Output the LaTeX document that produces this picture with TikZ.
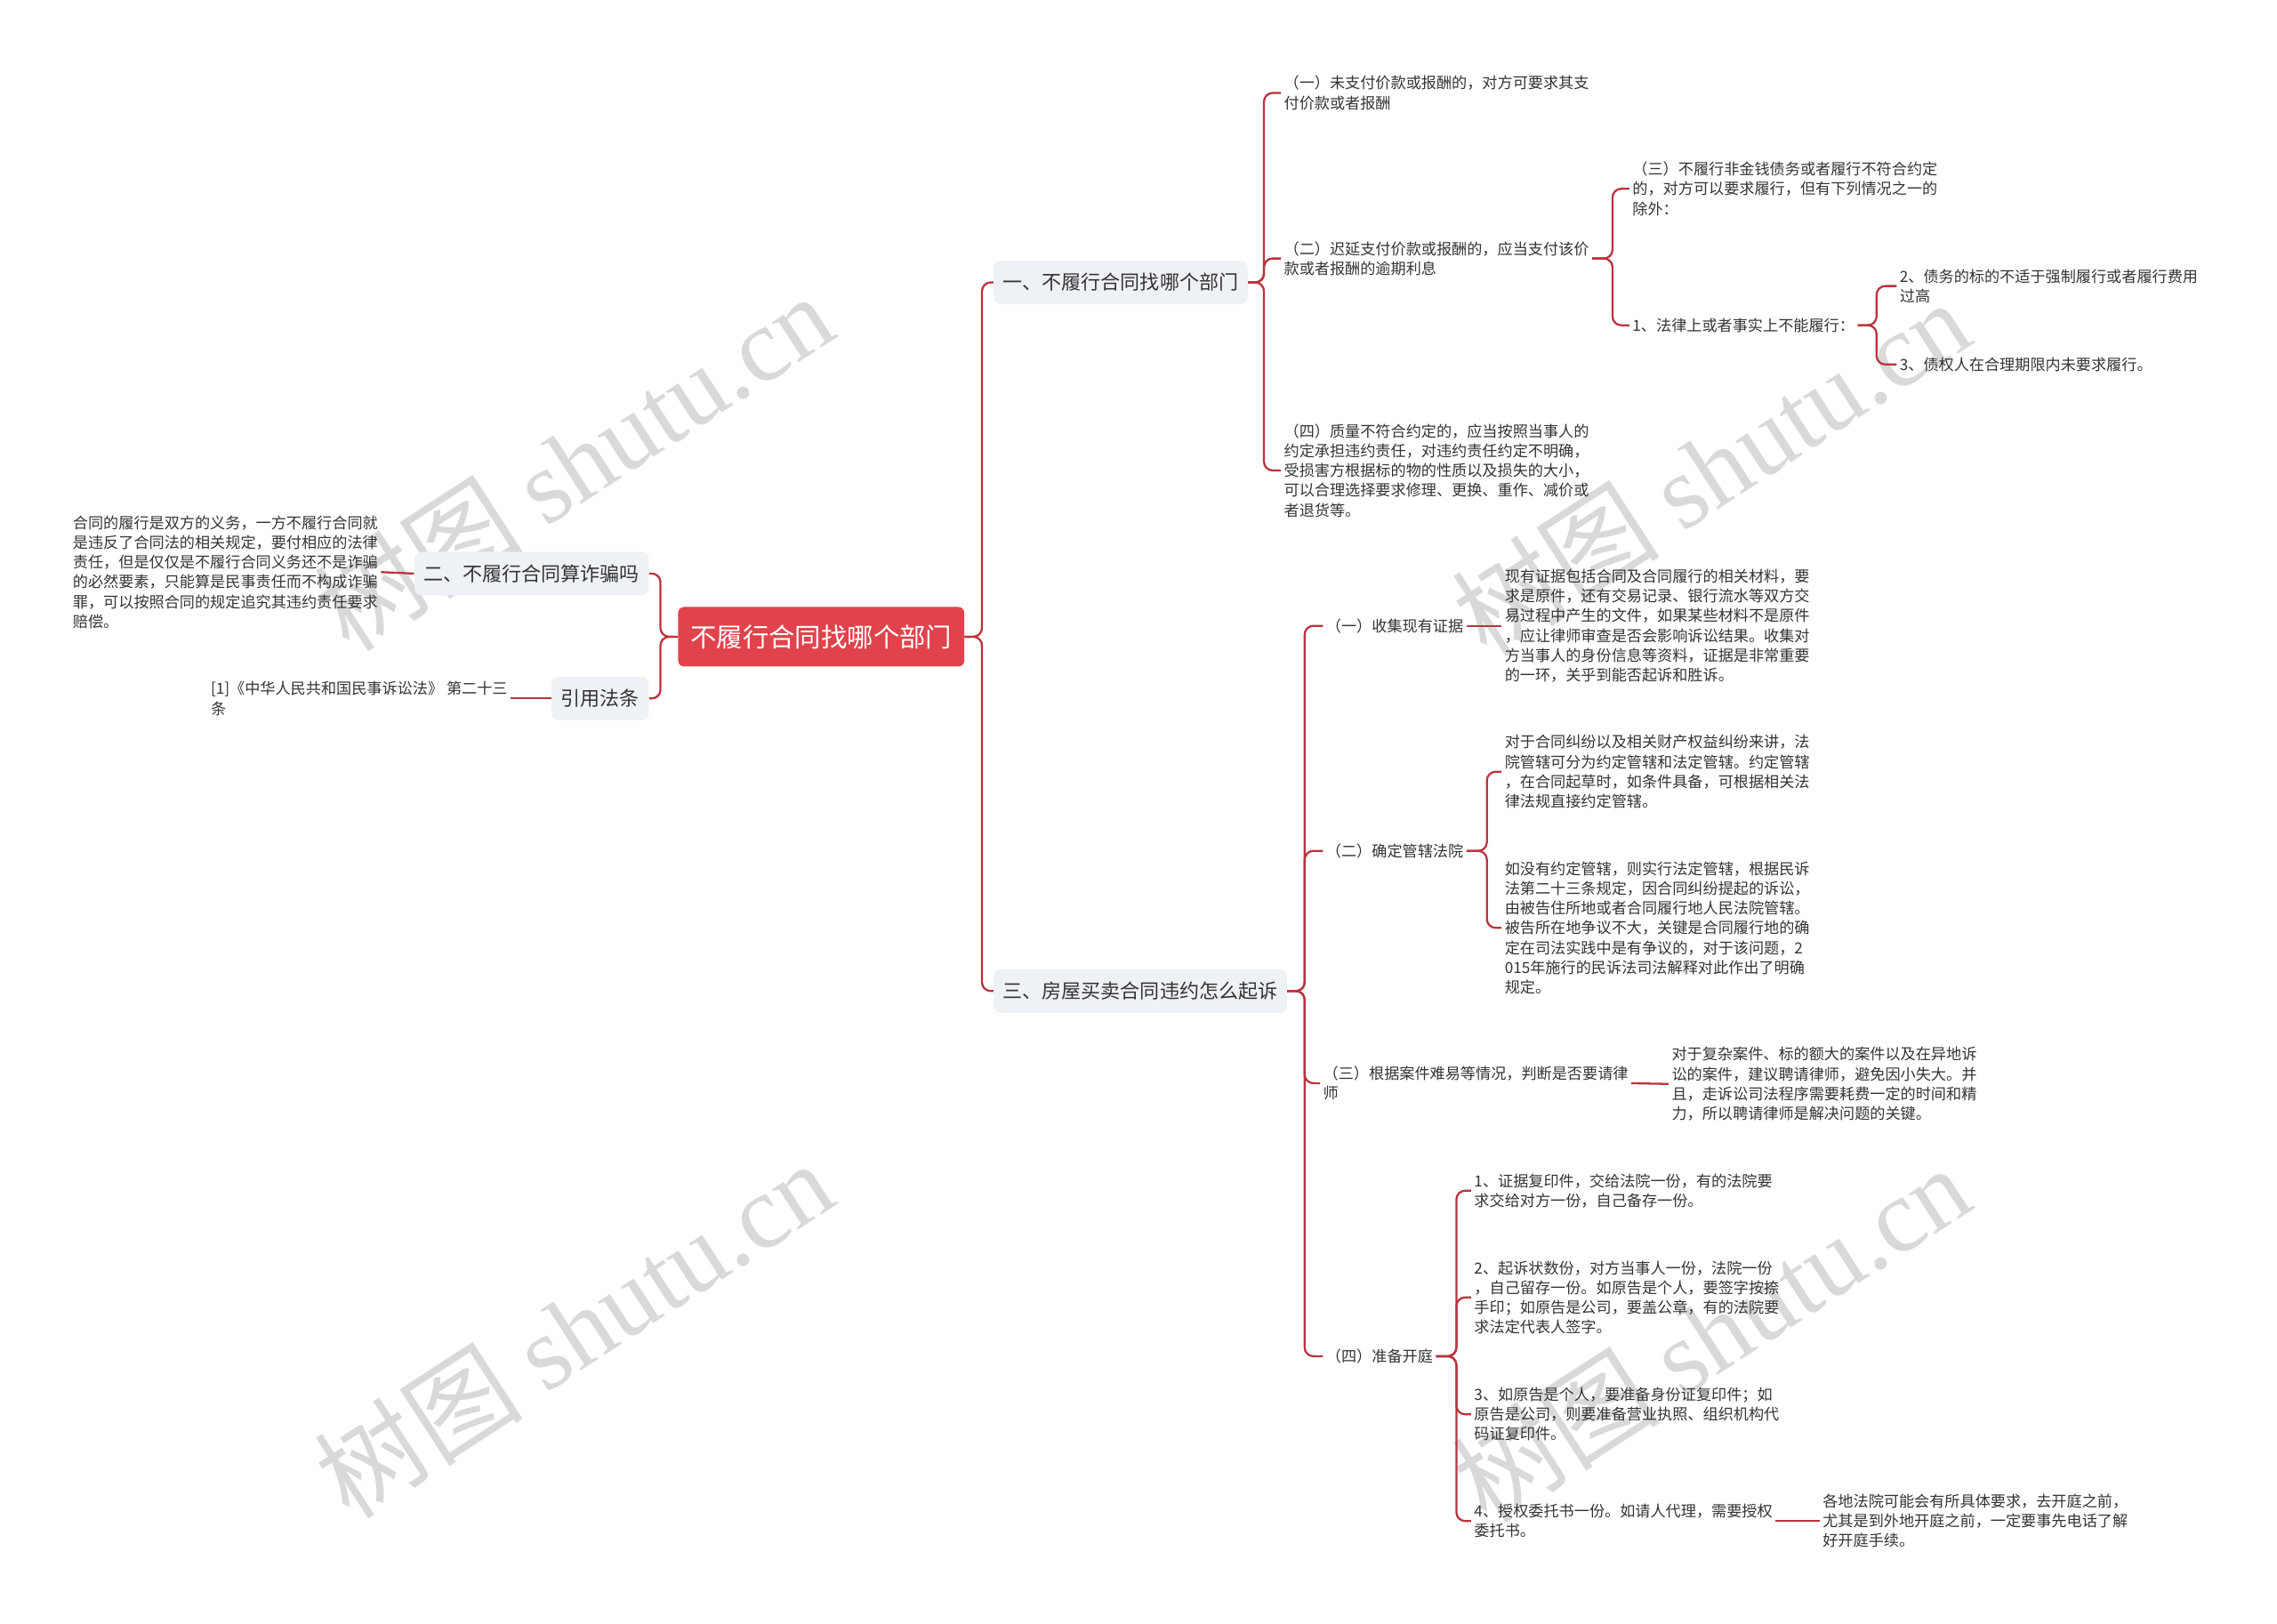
\documentclass[tikz,border=0pt]{standalone}
\usepackage{fontspec}
\setmainfont{Noto Sans CJK SC}
\newfontfamily\wmserif{Liberation Serif}
\usetikzlibrary{positioning}
\definecolor{rootred}{HTML}{E0434C}
\definecolor{linkred}{HTML}{B9333D}
\definecolor{topicgray}{HTML}{EEF1F5}
\definecolor{leafgray}{HTML}{333333}
\definecolor{wmgray}{HTML}{D9D9D9}

\begin{document}
\begin{tikzpicture}[x=1pt, y=-1pt,
    root/.style={fill=rootred, text=white, rounded corners=4pt, minimum height=41pt, inner xsep=8.5pt, font=\fontsize{18}{22}\selectfont},
    topic/.style={fill=topicgray, rounded corners=5pt, minimum height=30pt, inner xsep=6.5pt, text=leafgray, font=\fontsize{13.5}{16}\selectfont},
    leaf/.style={align=left, inner sep=2pt, text=leafgray, font=\fontsize{10.5}{13.6}\selectfont},
    link/.style={draw=linkred, line width=1.4pt, rounded corners=6pt},
    wmark/.style={text=wmgray, rotate=33, font=\fontsize{72}{80}\selectfont}
  ]
    \useasboundingbox (0,0) rectangle (1568,1118);

    % watermarks
    \node[wmark] (wm1) at (395,318) {树图 {\wmserif shutu.cn}};
    \node[wmark] (wm2) at (1178,322) {树图 {\wmserif shutu.cn}};
    \node[wmark] (wm3) at (395,915) {树图 {\wmserif shutu.cn}};
    \node[wmark] (wm4) at (1178,918) {树图 {\wmserif shutu.cn}};

    \node[root] (root) at (565.5,438.5) {不履行合同找哪个部门};
    \node[topic, anchor=west] (t1) at (684,194.5) {一、不履行合同找哪个部门};
    \node[topic, anchor=west] (t3) at (684,682.5) {三、房屋买卖合同违约怎么起诉};
    \node[topic, anchor=east] (t2) at (447,395) {二、不履行合同算诈骗吗};
    \node[topic, anchor=east] (tref) at (447,481) {引用法条};

    % left side
    \node[leaf, anchor=west] (fraud) at (48,394) {合同的履行是双方的义务，一方不履行合同就\\是违反了合同法的相关规定，要付相应的法律\\责任，但是仅仅是不履行合同义务还不是诈骗\\的必然要素，只能算是民事责任而不构成诈骗\\罪，可以按照合同的规定追究其违约责任要求\\赔偿。};
    \node[leaf, anchor=west] (law) at (143,481) {[1]《中华人民共和国民事诉讼法》 第二十三\\条};

    % branch one
    \node[leaf, anchor=west] (a1) at (882,64) {（一）未支付价款或报酬的，对方可要求其支\\付价款或者报酬};
    \node[leaf, anchor=west] (a2) at (882,178) {（二）迟延支付价款或报酬的，应当支付该价\\款或者报酬的逾期利息};
    \node[leaf, anchor=west] (a4) at (882,324) {（四）质量不符合约定的，应当按照当事人的\\约定承担违约责任，对违约责任约定不明确，\\受损害方根据标的物的性质以及损失的大小，\\可以合理选择要求修理、更换、重作、减价或\\者退货等。};
    \node[leaf, anchor=west] (a3) at (1122,130) {（三）不履行非金钱债务或者履行不符合约定\\的，对方可以要求履行，但有下列情况之一的\\除外：};
    \node[leaf, anchor=west] (x1) at (1122,224) {1、法律上或者事实上不能履行：};
    \node[leaf, anchor=west] (x2) at (1306,197) {2、债务的标的不适于强制履行或者履行费用\\过高};
    \node[leaf, anchor=west] (x3) at (1306,251) {3、债权人在合理期限内未要求履行。};

    % branch three
    \node[leaf, anchor=west] (b1) at (911,431) {（一）收集现有证据};
    \node[leaf, anchor=west] (b1t) at (1034,431) {现有证据包括合同及合同履行的相关材料，要\\求是原件，还有交易记录、银行流水等双方交\\易过程中产生的文件，如果某些材料不是原件\\，应让律师审查是否会影响诉讼结果。收集对\\方当事人的身份信息等资料，证据是非常重要\\的一环，关乎到能否起诉和胜诉。};
    \node[leaf, anchor=west] (b2) at (911,586) {（二）确定管辖法院};
    \node[leaf, anchor=west] (b2t) at (1034,531.5) {对于合同纠纷以及相关财产权益纠纷来讲，法\\院管辖可分为约定管辖和法定管辖。约定管辖\\，在合同起草时，如条件具备，可根据相关法\\律法规直接约定管辖。};
    \node[leaf, anchor=west] (b2u) at (1034,639) {如没有约定管辖，则实行法定管辖，根据民诉\\法第二十三条规定，因合同纠纷提起的诉讼，\\由被告住所地或者合同履行地人民法院管辖。\\被告所在地争议不大，关键是合同履行地的确\\定在司法实践中是有争议的，对于该问题，2\\015年施行的民诉法司法解释对此作出了明确\\规定。};
    \node[leaf, anchor=west] (b3) at (909,746) {（三）根据案件难易等情况，判断是否要请律\\师};
    \node[leaf, anchor=west] (b3t) at (1149,746.5) {对于复杂案件、标的额大的案件以及在异地诉\\讼的案件，建议聘请律师，避免因小失大。并\\且，走诉讼司法程序需要耗费一定的时间和精\\力，所以聘请律师是解决问题的关键。};
    \node[leaf, anchor=west] (b4) at (911,934) {（四）准备开庭};
    \node[leaf, anchor=west] (c1) at (1013,820) {1、证据复印件，交给法院一份，有的法院要\\求交给对方一份，自己备存一份。};
    \node[leaf, anchor=west] (c2) at (1013,893.5) {2、起诉状数份，对方当事人一份，法院一份\\，自己留存一份。如原告是个人，要签字按捺\\手印；如原告是公司，要盖公章，有的法院要\\求法定代表人签字。};
    \node[leaf, anchor=west] (c3) at (1013,974) {3、如原告是个人，要准备身份证复印件；如\\原告是公司，则要准备营业执照、组织机构代\\码证复印件。};
    \node[leaf, anchor=west] (c4) at (1013,1047.5) {4、授权委托书一份。如请人代理，需要授权\\委托书。};
    \node[leaf, anchor=west] (c5) at (1253,1047.5) {各地法院可能会有所具体要求，去开庭之前，\\尤其是到外地开庭之前，一定要事先电话了解\\好开庭手续。};

    % connectors
    \foreach \t in {t1,t3} \draw[link] (root.east) -- ++(12,0) |- (\t.west);
    \foreach \t in {t2,tref} \draw[link] (root.west) -- ++(-12,0) |- (\t.east);
    \draw[link] (t2.west) -- (fraud.east);
    \draw[link] (tref.west) -- (law.east);
    \foreach \c in {a1,a2,a4} \draw[link] (t1.east) -- ++(11,0) |- (\c.west);
    \foreach \c in {a3,x1} \draw[link] (a2.east) -- ++(14,0) |- (\c.west);
    \foreach \c in {x2,x3} \draw[link] (x1.east) -- ++(13,0) |- (\c.west);
    \foreach \c in {b1,b2,b3,b4} \draw[link] (t3.east) -- ++(12,0) |- (\c.west);
    \draw[link] (b1.east) -- (b1t.west);
    \foreach \c in {b2t,b2u} \draw[link] (b2.east) -- ++(14,0) |- (\c.west);
    \draw[link] (b3.east) -- (b3t.west);
    \foreach \c in {c1,c2,c3,c4} \draw[link] (b4.east) -- ++(14,0) |- (\c.west);
    \draw[link] (c4.east) -- (c5.west);
  \end{tikzpicture}
\end{document}
